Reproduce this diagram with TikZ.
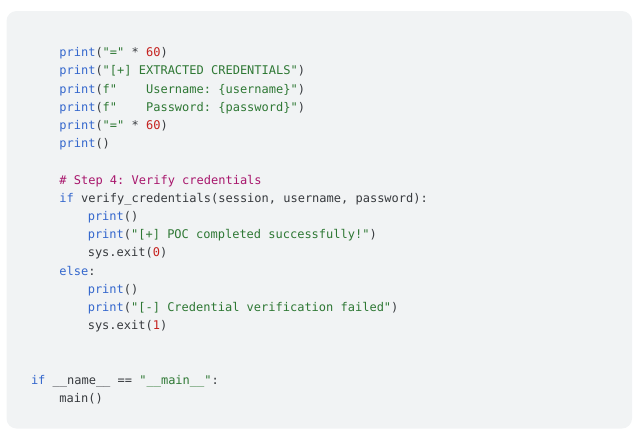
\documentclass[tikz,border=0pt]{standalone}
\usepackage{fontspec}
\setmonofont{DejaVu Sans Mono}
\definecolor{bgc}{RGB}{241,243,244}
\definecolor{codetext}{RGB}{55,58,62}
\definecolor{kwc}{RGB}{52,103,205}
\definecolor{strc}{RGB}{46,120,52}
\definecolor{numc}{RGB}{197,34,31}
\definecolor{cmc}{RGB}{168,22,108}
\newcommand\kwd[1]{\textcolor{kwc}{#1}}
\newcommand\strg[1]{\textcolor{strc}{#1}}
\newcommand\numb[1]{\textcolor{numc}{#1}}
\newcommand\cmnt[1]{\textcolor{cmc}{#1}}
\tikzset{
  codeline/.style={anchor=base west, inner sep=0pt, outer sep=0pt,
    text=codetext, font=\fontsize{12.0}{14}\selectfont\ttfamily},
  panel/.style={fill=bgc, draw=none, rounded corners=10pt}
}
\begin{document}
\begin{tikzpicture}[x=1pt, y=-1pt]
\useasboundingbox (0,0) rectangle (640,434);
\fill[panel] (6.5,11) rectangle (632,428.5);
\def\cw{7.1}
\def\lh{18.2}
\def\yo{56.7}
\def\xo{31.0}
% indent 0 -> \xo, indent 4 -> \xo+4cw, indent 8 -> \xo+8cw
\node[codeline] (l0) at ({\xo+4*\cw},{\yo+0*\lh}) {\kwd{print}(\strg{"="}\ *\ \numb{60})};
\node[codeline] (l1) at ({\xo+4*\cw},{\yo+1*\lh}) {\kwd{print}(\strg{"[+]\ EXTRACTED\ CREDENTIALS"})};
\node[codeline] (l2) at ({\xo+4*\cw},{\yo+2*\lh}) {\kwd{print}(\strg{f"\ \ \ \ Username:\ \{username\}"})};
\node[codeline] (l3) at ({\xo+4*\cw},{\yo+3*\lh}) {\kwd{print}(\strg{f"\ \ \ \ Password:\ \{password\}"})};
\node[codeline] (l4) at ({\xo+4*\cw},{\yo+4*\lh}) {\kwd{print}(\strg{"="}\ *\ \numb{60})};
\node[codeline] (l5) at ({\xo+4*\cw},{\yo+5*\lh}) {\kwd{print}()};
\node[codeline] (l7) at ({\xo+4*\cw},{\yo+7*\lh}) {\cmnt{\#\ Step\ 4:\ Verify\ credentials}};
\node[codeline] (l8) at ({\xo+4*\cw},{\yo+8*\lh}) {\kwd{if}\ verify\_credentials(session,\ username,\ password):};
\node[codeline] (l9) at ({\xo+8*\cw},{\yo+9*\lh}) {\kwd{print}()};
\node[codeline] (l10) at ({\xo+8*\cw},{\yo+10*\lh}) {\kwd{print}(\strg{"[+]\ POC\ completed\ successfully!"})};
\node[codeline] (l11) at ({\xo+8*\cw},{\yo+11*\lh}) {sys.exit(\numb{0})};
\node[codeline] (l12) at ({\xo+4*\cw},{\yo+12*\lh}) {\kwd{else}:};
\node[codeline] (l13) at ({\xo+8*\cw},{\yo+13*\lh}) {\kwd{print}()};
\node[codeline] (l14) at ({\xo+8*\cw},{\yo+14*\lh}) {\kwd{print}(\strg{"[-]\ Credential\ verification\ failed"})};
\node[codeline] (l15) at ({\xo+8*\cw},{\yo+15*\lh}) {sys.exit(\numb{1})};
\node[codeline] (l18) at ({\xo},{\yo+18*\lh}) {\kwd{if}\ \_\_name\_\_\ ==\ \strg{"\_\_main\_\_"}:};
\node[codeline] (l19) at ({\xo+4*\cw},{\yo+19*\lh}) {main()};
\end{tikzpicture}
\end{document}
